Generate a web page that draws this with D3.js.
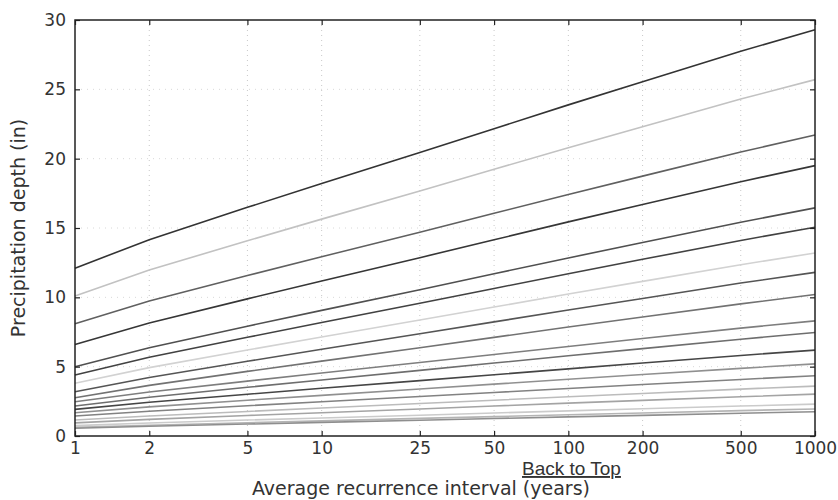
<!DOCTYPE html>
<html>
<head>
<meta charset="utf-8">
<script src="https://cdn.jsdelivr.net/npm/d3@7"></script>
<style>
  body { margin: 0; background: #fff; }
  svg { display: block; }
  .tick text { font-family: "DejaVu Sans", sans-serif; font-size: 17px; fill: #333; }
  .axis-title { font-family: "DejaVu Sans", sans-serif; font-size: 19px; fill: #333; }
  .back { font-family: "Liberation Sans", Arial, sans-serif; font-size: 19px; fill: #333; text-decoration: underline; }
</style>
</head>
<body>
<div id="chart"></div>
<script>
// average recurrence intervals (years)
var aris = [1, 2, 5, 10, 25, 50, 100, 200, 500, 1000];
var yTicks = [0, 5, 10, 15, 20, 25, 30];

// durations, top line to bottom line
var durations = ["60-day", "45-day", "30-day", "20-day", "10-day", "7-day", "4-day", "3-day", "2-day",
  "24-hr", "12-hr", "6-hr", "3-hr", "2-hr", "60-min", "30-min", "15-min", "10-min", "5-min"];

// precipitation depth (in) per duration, one value per ARI
var d60day = [12.1, 14.16, 16.49, 18.21, 20.44, 22.16, 23.88, 25.55, 27.75, 29.3];
var d45day = [10.1, 11.97, 14.08, 15.64, 17.67, 19.23, 20.79, 22.3, 24.3, 25.7];
var d30day = [8.1, 9.73, 11.57, 12.93, 14.7, 16.06, 17.42, 18.74, 20.48, 21.7];
var d20day = [6.6, 8.15, 9.89, 11.18, 12.86, 14.15, 15.44, 16.69, 18.34, 19.5];
var d10day = [5.0, 6.37, 7.92, 9.06, 10.55, 11.7, 12.84, 13.95, 15.42, 16.45];
var d7day = [4.4, 5.68, 7.12, 8.18, 9.57, 10.64, 11.7, 12.74, 14.1, 15.06];
var d4day = [3.8, 4.93, 6.2, 7.14, 8.36, 9.3, 10.24, 11.15, 12.35, 13.2];
var d3day = [3.19, 4.22, 5.39, 6.25, 7.37, 8.23, 9.09, 9.92, 11.03, 11.8];
var d2day = [2.76, 3.65, 4.66, 5.4, 6.37, 7.11, 7.86, 8.58, 9.53, 10.2];
var d24hr = [2.47, 3.17, 3.96, 4.54, 5.3, 5.88, 6.46, 7.03, 7.78, 8.3];
var d12hr = [2.16, 2.8, 3.51, 4.04, 4.73, 5.26, 5.79, 6.3, 6.98, 7.46];
var d6hr = [1.92, 2.43, 3.01, 3.44, 3.99, 4.42, 4.84, 5.26, 5.81, 6.19];
var d3hr = [1.68, 2.1, 2.58, 2.93, 3.39, 3.74, 4.09, 4.43, 4.88, 5.2];
var d2hr = [1.44, 1.79, 2.18, 2.47, 2.85, 3.14, 3.43, 3.71, 4.08, 4.34];
var d60min = [1.15, 1.44, 1.77, 2.02, 2.34, 2.58, 2.83, 3.07, 3.38, 3.6];
var d30min = [0.95, 1.2, 1.48, 1.68, 1.95, 2.16, 2.37, 2.57, 2.83, 3.02];
var d15min = [0.75, 0.94, 1.15, 1.3, 1.5, 1.66, 1.81, 1.96, 2.16, 2.3];
var d10min = [0.62, 0.78, 0.96, 1.09, 1.27, 1.4, 1.53, 1.66, 1.83, 1.95];
var d5min = [0.56, 0.7, 0.86, 0.98, 1.14, 1.26, 1.38, 1.49, 1.64, 1.75];

var seriesValues = [d60day, d45day, d30day, d20day, d10day, d7day, d4day, d3day, d2day,
  d24hr, d12hr, d6hr, d3hr, d2hr, d60min, d30min, d15min, d10min, d5min];

// grey shades the scan turned the colours into
var shades = ["#333333", "#c2c2c2", "#606060", "#363636", "#505050", "#424242", "#d2d2d2", "#555555", "#727272",
  "#7e7e7e", "#6e6e6e", "#454545", "#909090", "#828282", "#bcbcbc", "#a4a4a4", "#cbcbcb", "#b4b4b4", "#8e8e8e"];

var width = 838, height = 500;
// plot box
var pLeft = 75, pRight = 815, pTop = 20, pBottom = 436;

var svg = d3.select("#chart").append("svg")
  .attr("width", width)
  .attr("height", height);

var x = d3.scaleLog().domain([1, 1000]).range([pLeft, pRight]);
var y = d3.scaleLinear().domain([0, 30]).range([pBottom, pTop]);

// dotted grid
svg.append("g").selectAll("line")
  .data(aris.slice(1, -1))
  .enter().append("line")
  .attr("x1", function (d) { return x(d); })
  .attr("x2", function (d) { return x(d); })
  .attr("y1", pTop).attr("y2", pBottom)
  .attr("stroke", "#c8c8c8")
  .attr("stroke-dasharray", "1,4");
svg.append("g").selectAll("line")
  .data(yTicks.slice(1, -1))
  .enter().append("line")
  .attr("y1", function (d) { return y(d); })
  .attr("y2", function (d) { return y(d); })
  .attr("x1", pLeft).attr("x2", pRight)
  .attr("stroke", "#d8d8d8")
  .attr("stroke-dasharray", "1,5");

// lines
var line = d3.line()
  .x(function (d, i) { return x(aris[i]); })
  .y(function (d) { return y(d); });

svg.append("g").selectAll("path")
  .data(seriesValues)
  .enter().append("path")
  .attr("d", line)
  .attr("fill", "none")
  .attr("stroke", function (d, i) { return shades[i]; })
  .attr("stroke-width", 1.6);

// axes, ticks pointing inward on every side
var fmt = d3.format("d");
var xAxis = svg.append("g").attr("transform", "translate(0," + pBottom + ")")
  .call(d3.axisBottom(x).tickValues(aris).tickFormat(fmt).tickSizeInner(-5).tickSizeOuter(0).tickPadding(6));
var xTop = svg.append("g").attr("transform", "translate(0," + pTop + ")")
  .call(d3.axisTop(x).tickValues(aris).tickFormat("").tickSizeInner(-5).tickSizeOuter(0));
var yAxis = svg.append("g").attr("transform", "translate(" + pLeft + ",0)")
  .call(d3.axisLeft(y).tickValues(yTicks).tickSizeInner(-5).tickSizeOuter(0).tickPadding(9));
var yRight = svg.append("g").attr("transform", "translate(" + pRight + ",0)")
  .call(d3.axisRight(y).tickValues(yTicks).tickFormat("").tickSizeInner(-5).tickSizeOuter(0));

[xAxis, xTop, yAxis, yRight].forEach(function (g) {
  g.select(".domain").remove();
  g.selectAll(".tick line").attr("stroke", "#222").attr("stroke-width", 1.2);
});

// frame
svg.append("rect")
  .attr("x", pLeft).attr("y", pTop)
  .attr("width", pRight - pLeft).attr("height", pBottom - pTop)
  .attr("fill", "none")
  .attr("stroke", "#222")
  .attr("stroke-width", 1.5);

// titles
svg.append("text")
  .attr("class", "axis-title")
  .attr("text-anchor", "middle")
  .attr("transform", "translate(25," + ((pTop + pBottom) / 2) + ") rotate(-90)")
  .text("Precipitation depth (in)");

svg.append("text")
  .attr("class", "axis-title")
  .attr("text-anchor", "middle")
  .attr("x", 421).attr("y", 495)
  .text("Average recurrence interval (years)");

svg.append("text")
  .attr("class", "back")
  .attr("x", 522).attr("y", 475)
  .text("Back to Top");
</script>
</body>
</html>
